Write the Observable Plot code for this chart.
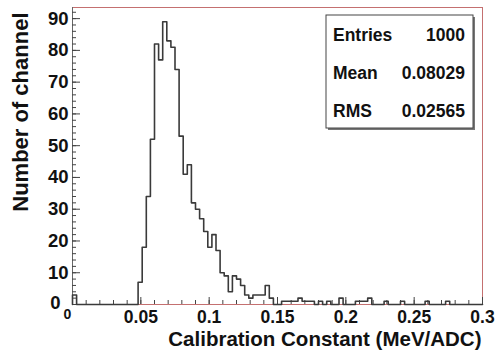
<!DOCTYPE html>
<html><head><meta charset="utf-8">
<script src="https://cdn.jsdelivr.net/npm/d3@7"></script>
<script src="https://cdn.jsdelivr.net/npm/@observablehq/plot@0.6"></script>
<style>
html,body{margin:0;padding:0;background:#fff;}
svg{display:block;}
</style></head><body><div id="chart"></div>
<script>
// ---- data ----
const xMin = 0, xMax = 0.3, nBins = 100;
const counts = [
  3,0,0,0,0,0,0,0,0,0,
  0,0,0,0,0,0,7,18,34,52,
  82,77,89,83,81,74,53,41,44,32,
  30,27,23,18,22,17,10,9,4,9,
  8,6,3,2,3,3,3,6,2,0,
  0,1,1,1,1,2,1,1,1,0,
  1,0,1,0,0,2,0,0,0,1,
  1,1,2,0,0,0,1,0,0,0,
  1,0,0,0,0,0,1,0,0,0,
  0,1,0,0,0,0,0,0,0,0
];
const yMax = 93.5;
const xTicks = [0.05, 0.1, 0.15, 0.2, 0.25, 0.3];
const xTickLabels = ["0.05", "0.1", "0.15", "0.2", "0.25", "0.3"];
const yTicks = [10, 20, 30, 40, 50, 60, 70, 80, 90];
const xTitle = "Calibration Constant (MeV/ADC)";
const yTitle = "Number of channel";
const statLabels = ["Entries", "Mean", "RMS"];
const statValues = ["1000", "0.08029", "0.02565"];

// ---- build ----
const binW = (xMax - xMin) / nBins;
const pts = [{x: xMin, y: 0}];
counts.forEach((c, i) => pts.push({x: xMin + i * binW, y: c}));
pts.push({x: xMax, y: 0});
const xMajor = [0, ...xTicks];
const xMinor = d3.range(0, 31).map(i => i / 100);
const yMajor = [0, ...yTicks];
const yMinor = d3.range(0, 94, 2);

const font = "'Liberation Sans', Arial, Helvetica, sans-serif";
const tickStroke = "#444";

const plot = Plot.plot({
  width: 497,
  height: 356,
  marginTop: 7,
  marginBottom: 52,
  marginLeft: 72,
  marginRight: 15,
  style: {fontFamily: font, background: "#fff"},
  x: {domain: [xMin, xMax], label: null},
  y: {domain: [0, yMax], label: null},
  marks: [
    Plot.frame({stroke: "#c47070", strokeWidth: 1}),
    Plot.ruleX([xMin], {stroke: "#666", strokeWidth: 1}),
    // inward ticks
    Plot.axisX({ticks: xMinor, tickSize: -4, fill: "none", stroke: tickStroke, label: null}),
    Plot.axisX({ticks: xMajor, tickSize: -7, fill: "none", stroke: tickStroke, label: null}),
    Plot.axisY({ticks: yMinor, tickSize: -4, fill: "none", stroke: tickStroke, label: null}),
    Plot.axisY({ticks: yMajor, tickSize: -8, fill: "none", stroke: tickStroke, label: null}),
    // tick labels
    Plot.axisX({ticks: xTicks, tickSize: 0, tickPadding: 6, stroke: "none",
      tickFormat: (d) => xTickLabels[xTicks.indexOf(d)], fontSize: 17.5, fontWeight: "bold", fill: "#111", label: null}),
    Plot.axisX({ticks: [0], tickSize: 0, tickPadding: 5, dx: -5, stroke: "none",
      tickFormat: () => "0", fontSize: 14, fontWeight: "bold", fill: "#111", label: null}),
    Plot.axisY({ticks: yTicks, tickSize: 0, tickPadding: 4, stroke: "none",
      fontSize: 18.5, fontWeight: "bold", fill: "#111", label: null}),
    Plot.axisY({ticks: [0], tickSize: 0, tickPadding: 12, dy: -1, stroke: "none",
      tickFormat: () => "0", fontSize: 18.5, fontWeight: "bold", fill: "#111", label: null}),
    // histogram outline
    Plot.line(pts, {x: "x", y: "y", curve: "step-after", stroke: "#3a3a3a", strokeWidth: 1.6}),
    // titles
    Plot.text([xTitle], {frameAnchor: "bottom-right", textAnchor: "end", lineAnchor: "middle",
      dy: 35, dx: -1, fontSize: 20.5, fontWeight: "bold", fill: "#111"}),
    Plot.text([yTitle], {frameAnchor: "top-left", rotate: -90, textAnchor: "end", lineAnchor: "middle",
      dx: -52, dy: 5, fontSize: 22, fontWeight: "bold", fill: "#111"})
  ]
});
document.getElementById("chart").appendChild(plot);

// ---- statistics box ----
const svg = d3.select(plot);
const g = svg.append("g").attr("font-family", font).attr("font-weight", "bold").attr("font-size", 17.5).attr("fill", "#111");
g.append("rect").attr("x", 328).attr("y", 17).attr("width", 147).attr("height", 113).attr("fill", "#777");
g.append("rect").attr("x", 326).attr("y", 15).attr("width", 147).attr("height", 113)
  .attr("fill", "#fff").attr("stroke", "#444").attr("stroke-width", 1);
const rowY = [41, 79, 117];
statLabels.forEach((s, i) => {
  g.append("text").attr("x", 333).attr("y", rowY[i]).attr("text-anchor", "start").text(s);
  g.append("text").attr("x", 465).attr("y", rowY[i]).attr("text-anchor", "end").text(statValues[i]);
});
</script></body></html>
